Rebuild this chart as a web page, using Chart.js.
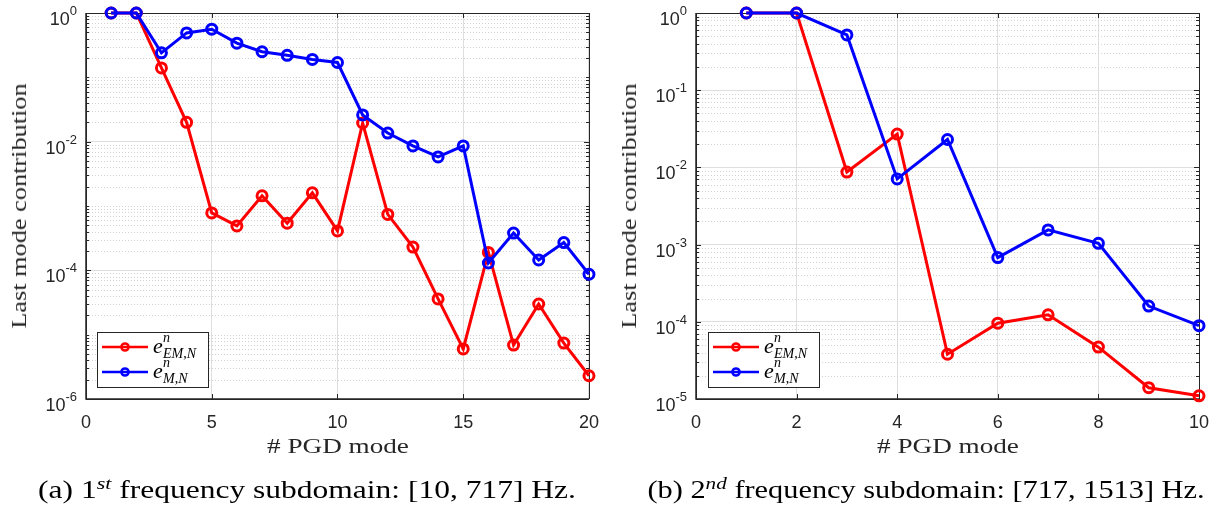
<!DOCTYPE html>
<html>
<head>
<meta charset="utf-8">
<script src="https://cdn.jsdelivr.net/npm/chart.js@4.4.0/dist/chart.umd.min.js"></script>
<style>
  body { margin: 0; background: #fff; width: 1224px; height: 512px; overflow: hidden; position: relative; }
  canvas { position: absolute; top: 0; }
  .lbl { position: absolute; white-space: nowrap; color: #262626; font-family: "Liberation Serif", "DejaVu Serif", serif; line-height: 1; transform-origin: center center; }
  .cap { color: #000; }
  .lbl sup { font-size: 70%; font-style: italic; vertical-align: 0; position: relative; top: -0.5em; }
</style>
</head>
<body>
<canvas id="chartA" width="612" height="512" style="left:0"></canvas>
<canvas id="chartB" width="612" height="512" style="left:612px"></canvas>

<div class="lbl" id="ytA" style="font-size:22px">Last mode contribution</div>
<div class="lbl" id="ytB" style="font-size:22px">Last mode contribution</div>
<div class="lbl" id="xtA" style="font-size:22px"># PGD mode</div>
<div class="lbl" id="xtB" style="font-size:22px"># PGD mode</div>
<div class="lbl cap" id="capA" style="font-size:25px">(a) 1<sup>st</sup> frequency subdomain: [10, 717] Hz.</div>
<div class="lbl cap" id="capB" style="font-size:25px">(b) 2<sup>nd</sup> frequency subdomain: [717, 1513] Hz.</div>

<script>
// ---- data: first frequency subdomain [10, 717] Hz ----
const modesA = [1, 2, 3, 4, 5, 6, 7, 8, 9, 10, 11, 12, 13, 14, 15, 16, 17, 18, 19, 20];
const emA = [1, 1, 0.14, 0.020, 7.8e-4, 4.9e-4, 1.44e-3, 5.4e-4, 1.6e-3, 4.1e-4,
             0.0195, 7.4e-4, 2.3e-4, 3.6e-5, 6.0e-6, 1.9e-4, 6.9e-6, 3.0e-5, 7.4e-6, 2.3e-6];
const mA  = [1, 1, 0.24, 0.49, 0.56, 0.34, 0.25, 0.22, 0.19, 0.17,
             0.026, 0.0136, 0.0086, 0.0058, 0.0086, 1.3e-4, 3.8e-4, 1.45e-4, 2.7e-4, 8.7e-5];
const xTicksA = [0, 5, 10, 15, 20];
const yExpA = [-6, -4, -2, 0];

// ---- data: second frequency subdomain [717, 1513] Hz ----
const modesB = [1, 2, 3, 4, 5, 6, 7, 8, 9, 10];
const emB = [1, 1, 0.0087, 0.027, 3.8e-5, 9.6e-5, 1.23e-4, 4.7e-5, 1.4e-5, 1.1e-5];
const mB  = [1, 1, 0.52, 0.0071, 0.023, 6.8e-4, 1.55e-3, 1.04e-3, 1.6e-4, 8.9e-5];
const xTicksB = [0, 2, 4, 6, 8, 10];
const yExpB = [-5, -4, -3, -2, -1, 0];

const INK = '#262626';
const RED = '#ff0000';
const BLUE = '#0000ff';
const SANS = '"Liberation Sans", Arial, sans-serif';
const SERIF = '"Liberation Serif", "DejaVu Serif", serif';

function drawPow(ctx, exp, xRight, yTick) {
  const base = '10';
  const sup = exp === 0 ? '0' : '-' + Math.abs(exp);
  ctx.font = '18px ' + SANS;
  const wb = ctx.measureText(base).width;
  ctx.font = '13px ' + SANS;
  const ws = ctx.measureText(sup).width;
  const x0 = xRight - wb - ws;
  ctx.fillStyle = INK;
  ctx.textAlign = 'left';
  ctx.textBaseline = 'alphabetic';
  ctx.font = '18px ' + SANS;
  ctx.fillText(base, x0, yTick + 12);
  ctx.font = '13px ' + SANS;
  ctx.fillText(sup, x0 + wb, yTick + 2);
}

function drawLegend(ctx, x, y) {
  const rows = [
    { color: RED, sub: [['E', true], ['M', true], [',', false], ['N', true]] },
    { color: BLUE, sub: [['M', true], [',', false], ['N', true]] }
  ];
  ctx.save();
  ctx.fillStyle = '#fff';
  ctx.fillRect(x + 0.5, y + 0.5, 111, 55);
  ctx.strokeStyle = INK;
  ctx.lineWidth = 1;
  ctx.strokeRect(x + 0.5, y + 0.5, 111, 55);
  rows.forEach((r, i) => {
    const cy = y + 15 + i * 25;
    ctx.strokeStyle = r.color;
    ctx.lineWidth = 2.5;
    ctx.beginPath();
    ctx.moveTo(x + 5, cy);
    ctx.lineTo(x + 51, cy);
    ctx.stroke();
    ctx.beginPath();
    ctx.arc(x + 28, cy, 3.6, 0, Math.PI * 2);
    ctx.stroke();
    ctx.fillStyle = '#000';
    ctx.textAlign = 'left';
    ctx.textBaseline = 'alphabetic';
    ctx.font = 'italic 22px ' + SERIF;
    ctx.fillText('e', x + 56, cy + 6);
    ctx.font = 'italic 14px ' + SERIF;
    ctx.fillText('n', x + 66, cy - 5);
    let sx = x + 66;
    r.sub.forEach(([t, it]) => {
      ctx.font = (it ? 'italic ' : '') + '14px ' + SERIF;
      ctx.fillText(t, sx, cy + 11);
      sx += ctx.measureText(t).width;
    });
  });
  ctx.restore();
}

// frame, minor grid, inward ticks, power-of-ten labels and legend
const framePlugin = {
  id: 'frame',
  beforeDatasetsDraw(chart) {
    const { ctx, chartArea: a, scales: { x, y } } = chart;
    const cfg = chart.options.plugins.frame;
    const majors = new Set(cfg.yExp);
    ctx.save();
    // minor dotted grid
    ctx.strokeStyle = '#d2d2d2';
    ctx.lineWidth = 1;
    ctx.setLineDash([1, 2]);
    const minors = [];
    for (let d = cfg.yExp[0]; d < 0; d++) {
      for (let k = 1; k <= 9; k++) {
        if (k === 1 && majors.has(d)) continue;
        minors.push(k * Math.pow(10, d));
      }
    }
    minors.forEach(v => {
      const py = Math.round(y.getPixelForValue(v)) + 0.5;
      ctx.beginPath();
      ctx.moveTo(a.left, py);
      ctx.lineTo(a.right, py);
      ctx.stroke();
    });
    ctx.setLineDash([]);
    // box
    ctx.strokeStyle = INK;
    ctx.lineWidth = 1;
    ctx.beginPath();
    ctx.moveTo(a.left, Math.round(a.top) + 0.5);
    ctx.lineTo(a.right, Math.round(a.top) + 0.5);
    ctx.moveTo(Math.round(a.right) + 0.5, a.top);
    ctx.lineTo(Math.round(a.right) + 0.5, a.bottom);
    ctx.stroke();
    // x ticks (bottom and top, inward)
    ctx.beginPath();
    cfg.xTicks.forEach(t => {
      const px = Math.round(x.getPixelForValue(t)) + 0.5;
      ctx.moveTo(px, a.bottom); ctx.lineTo(px, a.bottom - 5);
      ctx.moveTo(px, a.top); ctx.lineTo(px, a.top + 5);
    });
    // y major and minor ticks (left and right, inward)
    cfg.yExp.forEach(e => {
      const py = Math.round(y.getPixelForValue(Math.pow(10, e))) + 0.5;
      ctx.moveTo(a.left, py); ctx.lineTo(a.left + 5, py);
      ctx.moveTo(a.right, py); ctx.lineTo(a.right - 5, py);
    });
    minors.forEach(v => {
      const py = Math.round(y.getPixelForValue(v)) + 0.5;
      ctx.moveTo(a.left, py); ctx.lineTo(a.left + 3, py);
      ctx.moveTo(a.right, py); ctx.lineTo(a.right - 3, py);
    });
    ctx.stroke();
    // left and bottom axis lines, slightly heavier
    ctx.lineWidth = 1.5;
    ctx.beginPath();
    ctx.moveTo(a.left, a.top); ctx.lineTo(a.left, a.bottom); ctx.lineTo(a.right, a.bottom);
    ctx.stroke();
    // y tick labels
    cfg.yExp.forEach(e => drawPow(ctx, e, a.left - 9, y.getPixelForValue(Math.pow(10, e))));
    ctx.restore();
  },
  afterDatasetsDraw(chart) {
    const cfg = chart.options.plugins.frame;
    drawLegend(chart.ctx, cfg.legend[0], cfg.legend[1]);
  }
};

function makeChart(id, modes, em, m, xMax, xTicks, yExp, leftW, rightPad, legend) {
  const pts = arr => modes.map((n, i) => ({ x: n, y: arr[i] }));
  const series = (label, data, color, order) => ({
    label, data, order,
    borderColor: color, backgroundColor: color,
    borderWidth: 3,
    pointRadius: 5, pointHoverRadius: 5,
    pointBorderWidth: 3,
    pointBackgroundColor: 'rgba(0,0,0,0)',
    pointBorderColor: color,
    tension: 0, clip: false
  });
  return new Chart(document.getElementById(id), {
    type: 'line',
    data: {
      datasets: [
        series('e_EM,N', pts(em), RED, 1),
        series('e_M,N', pts(m), BLUE, 0)
      ]
    },
    options: {
      responsive: false,
      animation: false,
      devicePixelRatio: 1,
      layout: { padding: { left: 0, top: 13, right: rightPad, bottom: 0 } },
      plugins: {
        legend: { display: false },
        tooltip: { enabled: false },
        frame: { xTicks, yExp, legend }
      },
      scales: {
        x: {
          type: 'linear', min: 0, max: xMax,
          afterBuildTicks: s => { s.ticks = xTicks.map(v => ({ value: v })); },
          ticks: { color: INK, font: { family: SANS, size: 18 }, padding: 13, maxRotation: 0 },
          grid: { color: '#dedede', drawTicks: false },
          border: { color: INK, width: 1 },
          afterFit: s => { s.height = 113; }
        },
        y: {
          type: 'logarithmic', min: Math.pow(10, yExp[0]), max: 1,
          afterBuildTicks: s => { s.ticks = yExp.map(e => ({ value: Math.pow(10, e), major: true })); },
          ticks: { display: false },
          grid: { color: '#dedede', drawTicks: false },
          border: { color: INK, width: 1 },
          afterFit: s => { s.width = leftW; }
        }
      }
    },
    plugins: [framePlugin]
  });
}

makeChart('chartA', modesA, emA, mA, 20, xTicksA, yExpA, 86, 23, [97, 332]);
makeChart('chartB', modesB, emB, mB, 10, xTicksB, yExpB, 84, 25, [96, 332]);

// text placement: centre point and target width
function place(id, cx, cy, width, rotate) {
  const el = document.getElementById(id);
  el.style.left = '0px';
  el.style.top = '0px';
  const w = el.offsetWidth;
  const k = width / w;
  el.style.left = cx + 'px';
  el.style.top = cy + 'px';
  el.style.transform = rotate
    ? `translate(-50%,-50%) rotate(-90deg) scaleX(${k})`
    : `translate(-50%,-50%) scaleX(${k})`;
}
function layoutText() {
  place('ytA', 19, 206, 245, true);
  place('ytB', 629, 206, 245, true);
  place('xtA', 338, 446, 142, false);
  place('xtB', 948, 446, 142, false);
  place('capA', 307, 489, 538, false);
  place('capB', 926, 489, 557, false);
}
layoutText();
if (document.fonts && document.fonts.ready) document.fonts.ready.then(layoutText);
</script>
</body>
</html>
